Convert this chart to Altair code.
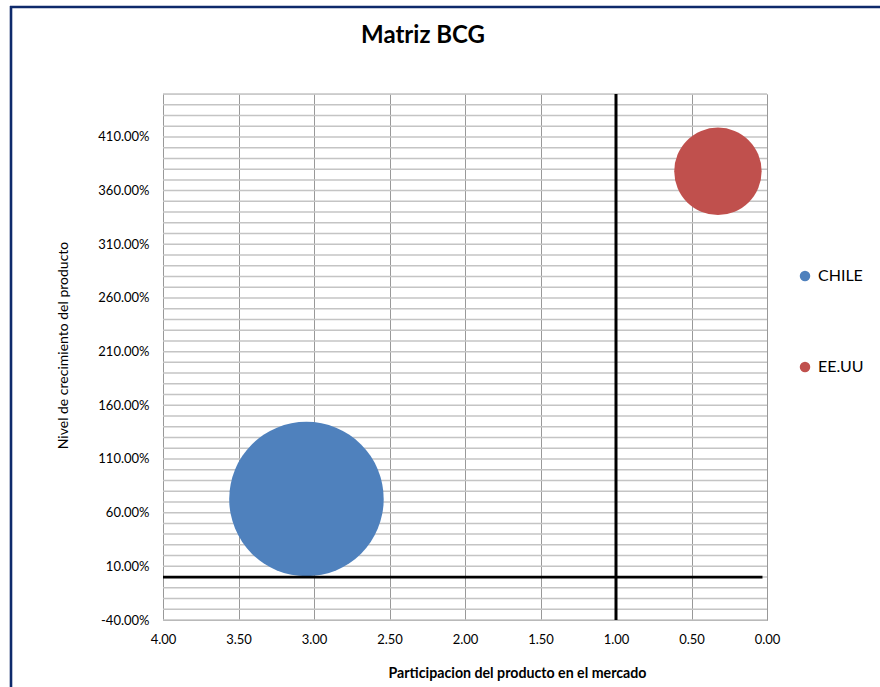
import altair as alt
import pandas as pd

# Data
series = ["CHILE", "EE.UU"]
participacion = [3.05, 0.325]        # x: relative market share
crecimiento = [72.7, 378.0]          # y: growth, in percent
tamano = [100, 32]                   # bubble size values
colors = ["#4F81BD", "#C0504D"]

y_grid_values = list(range(-40, 451, 10))
y_label_values = list(range(-40, 411, 50))
x_tick_values = [0, 0.5, 1, 1.5, 2, 2.5, 3, 3.5, 4]

FONT = "Lato"

df = pd.DataFrame({"serie": series, "x": participacion, "y": crecimiento, "size": tamano})

xscale = alt.Scale(domain=[0, 4], reverse=True, nice=False, zero=False)
yscale = alt.Scale(domain=[-40, 450], nice=False, zero=False)

x_axis = alt.Axis(values=x_tick_values, format=".2f", grid=True, ticks=False,
                  gridColor="#999999", gridWidth=1,
                  domainColor="#999999", domainWidth=1,
                  labelFont=FONT, labelFontSize=13, labelColor="#000000",
                  labelPadding=13, labelFlush=False, labelOverlap=False,
                  title="Participacion del producto en el mercado",
                  titleFont=FONT, titleFontSize=14.2, titleFontWeight="bold",
                  titleColor="#000000", titleX=354, titleY=53,
                  titleBaseline="middle", titleAlign="center")

y_axis = alt.Axis(values=y_label_values, grid=False, ticks=False,
                  labelExpr="(datum.value < 0 ? '-' : '') + format(abs(datum.value), '.2f') + '%'",
                  domainColor="#999999", domainWidth=1,
                  labelFont=FONT, labelFontSize=13, labelColor="#000000",
                  labelPadding=14, labelOverlap=False, labelFlush=False,
                  title="Nivel de crecimiento del producto",
                  titleFont=FONT, titleFontSize=14, titleFontWeight="normal",
                  titleColor="#000000", titleX=-100, titleY=251,
                  titleBaseline="middle", titleAlign="center", titleAngle=270)

grid_df = pd.DataFrame({"g": y_grid_values})
hgrid = alt.Chart(grid_df).mark_rule(color="#c4c4c4", strokeWidth=1.5).encode(
    y=alt.Y("g:Q", scale=yscale, axis=y_axis))

bubbles = alt.Chart(df).mark_circle(opacity=1, stroke=None).encode(
    x=alt.X("x:Q", scale=xscale, axis=x_axis),
    y=alt.Y("y:Q", scale=yscale, axis=y_axis),
    size=alt.Size("size:Q", scale=alt.Scale(domain=[0, 100], range=[0, 23870]), legend=None),
    color=alt.Color("serie:N", scale=alt.Scale(domain=series, range=colors),
                    legend=alt.Legend(title=None, orient="none", legendX=634, legendY=174,
                                      symbolType="circle", symbolSize=110, symbolOpacity=1,
                                      symbolStrokeWidth=0,
                                      labelFont=FONT, labelFontSize=16, labelColor="#000000",
                                      labelOffset=5, rowPadding=75, padding=0)),
)

vline_df = pd.DataFrame({"x": [1.0], "y": [-40], "y2": [450]})
vline = alt.Chart(vline_df).mark_rule(color="#000000", strokeWidth=3).encode(
    x=alt.X("x:Q", scale=xscale), y=alt.Y("y:Q", scale=yscale), y2="y2:Q")

hline_df = pd.DataFrame({"x": [4.0], "x2": [0.03], "y": [0.0]})
hline = alt.Chart(hline_df).mark_rule(color="#000000", strokeWidth=2.8).encode(
    x=alt.X("x:Q", scale=xscale), x2="x2:Q", y=alt.Y("y:Q", scale=yscale))

frame_df = pd.DataFrame({"a": [0]})
left_border = alt.Chart(frame_df).mark_rule(color="#0E2A6B", strokeWidth=2.6).encode(
    x=alt.value(-152), y=alt.value(-88), y2=alt.value(700))
top_border = alt.Chart(frame_df).mark_rule(color="#0E2A6B", strokeWidth=2.6).encode(
    x=alt.value(-153), x2=alt.value(730), y=alt.value(-87))

chart = alt.layer(hgrid, bubbles, vline, hline, left_border, top_border).properties(
    width=604, height=526,
    title=alt.TitleParams("Matriz BCG", font=FONT, fontSize=24, fontWeight="bold",
                          color="#000000", anchor="middle", dx=-42, offset=-43,
                          frame="group"),
    autosize=alt.AutoSizeParams(type="none"),
    padding={"left": 163, "top": 94, "right": 113, "bottom": 67},
).configure_view(stroke=None).configure(background="#ffffff")

chart.save("out.html", embed_options={"renderer": "svg", "actions": False})
